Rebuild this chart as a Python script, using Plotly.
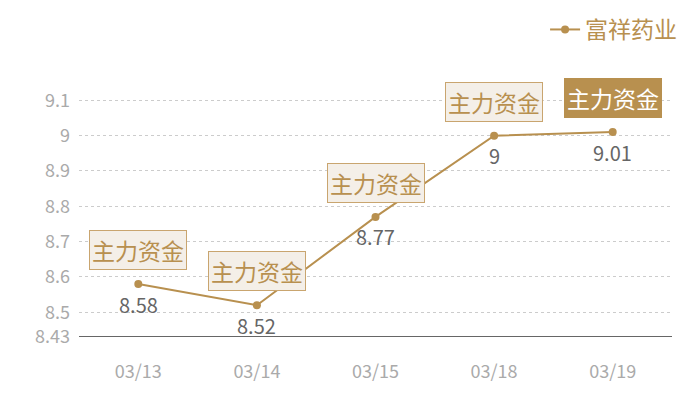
import plotly.graph_objects as go

dates = ["03/13", "03/14", "03/15", "03/18", "03/19"]
prices = [8.58, 8.52, 8.77, 9.0, 9.01]
price_labels = ["8.58", "8.52", "8.77", "9", "9.01"]
tag_text = "主力资金"
series_name = "富祥药业"
y_ticks = [8.43, 8.5, 8.6, 8.7, 8.8, 8.9, 9.0, 9.1]
y_tick_labels = ["8.43", "8.5", "8.6", "8.7", "8.8", "8.9", "9", "9.1"]

GOLD = "#b8904f"
FONT = "Noto Sans CJK SC"

fig = go.Figure()
fig.add_trace(go.Scatter(
    x=dates, y=prices, mode="lines+markers", name=series_name,
    line=dict(color=GOLD, width=2),
    marker=dict(color=GOLD, size=8),
    cliponaxis=False,
))

for i, (d, p, lab) in enumerate(zip(dates, prices, price_labels)):
    last = i == len(dates) - 1
    fig.add_annotation(
        x=d, y=p, xref="x", yref="y", text=tag_text, showarrow=False,
        yshift=34,
        font=dict(size=23, color="#ffffff" if last else GOLD, family=FONT),
        bgcolor=GOLD if last else "#f4efe8",
        bordercolor=GOLD if last else "#c9a56f",
        borderwidth=1, borderpad=2,
    )
    fig.add_annotation(
        x=d, y=p, xref="x", yref="y", text=lab, showarrow=False,
        yshift=-20,
        font=dict(size=20, color="#666666", family=FONT),
    )

fig.update_layout(
    width=692, height=392,
    margin=dict(l=71, r=28, t=57, b=63, autoexpand=False),
    paper_bgcolor="white", plot_bgcolor="white",
    font=dict(family=FONT),
    showlegend=True,
    legend=dict(x=1.017, y=1.0, xref="paper", yref="container", xanchor="right", yanchor="top",
                font=dict(size=23, color=GOLD, family=FONT), bgcolor="rgba(0,0,0,0)",
                itemwidth=30),
    xaxis=dict(type="category", range=[-0.5, 4.5], showgrid=False, showline=False, ticks="",
               automargin=False,
               tickfont=dict(size=18, color="#aaaaaa", family=FONT), ticklabelstandoff=22),
    yaxis=dict(range=[8.43, 9.2], tickvals=y_ticks, ticktext=y_tick_labels, automargin=False,
               showgrid=True, gridcolor="#cccccc", griddash="dot", gridwidth=1,
               zeroline=False, showline=False, ticks="",
               tickfont=dict(size=18, color="#aaaaaa", family=FONT), ticklabelstandoff=8),
)
fig.add_shape(type="line", xref="paper", yref="y", x0=0, x1=1, y0=8.43, y1=8.43,
              line=dict(color="#333333", width=1.5))

fig.write_html("out.html")
